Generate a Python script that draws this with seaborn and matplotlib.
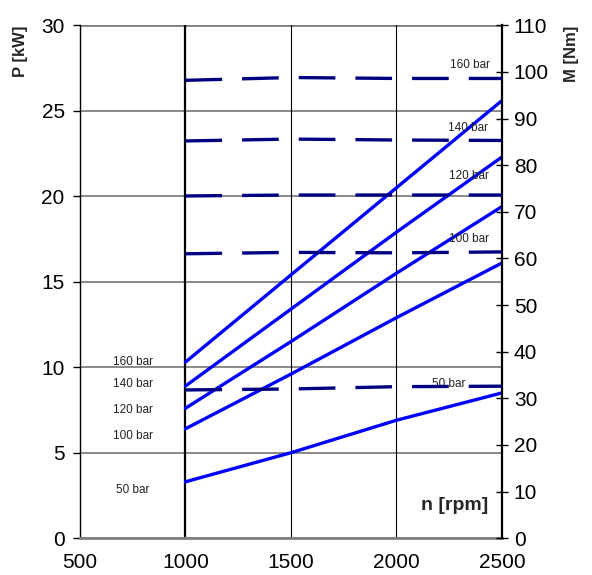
import matplotlib
matplotlib.use("Agg")
import matplotlib.pyplot as plt
import seaborn as sns
import pandas as pd

rpm = [1000, 1500, 2000, 2500]
pressures = ["160 bar", "140 bar", "120 bar", "100 bar", "50 bar"]
power_160 = [10.3, 15.4, 20.5, 25.6]
power_140 = [8.9, 13.4, 17.9, 22.3]
power_120 = [7.6, 11.5, 15.5, 19.4]
power_100 = [6.4, 9.6, 12.9, 16.1]
power_50 = [3.3, 5.0, 6.9, 8.5]
torque_160 = [98.2, 98.8, 98.6, 98.6]
torque_140 = [85.2, 85.6, 85.4, 85.3]
torque_120 = [73.4, 73.6, 73.6, 73.6]
torque_100 = [61.0, 61.3, 61.2, 61.4]
torque_50 = [31.8, 32.0, 32.5, 32.6]
x_ticks = [500, 1000, 1500, 2000, 2500]
p_ticks = [0, 5, 10, 15, 20, 25, 30]
m_ticks = list(range(0, 111, 10))

powers = [power_160, power_140, power_120, power_100, power_50]
torques = [torque_160, torque_140, torque_120, torque_100, torque_50]

pdf = pd.DataFrame([(n, v, p) for p, vals in zip(pressures, powers) for n, v in zip(rpm, vals)],
                   columns=["n", "P", "bar"])
tdf = pd.DataFrame([(n, v, p) for p, vals in zip(pressures, torques) for n, v in zip(rpm, vals)],
                   columns=["n", "M", "bar"])

sns.set_style("white")
plt.rcParams["font.family"] = ["Liberation Sans", "DejaVu Sans"]

fig = plt.figure(figsize=(5.92, 5.75), dpi=100)
ax = fig.add_axes([0.135, 0.064, 0.713, 0.892])
ax2 = ax.twinx()

for y in p_ticks:
    ax.axhline(y, color="#808080", lw=1.3 if y not in (0, 30) else 2.0, zorder=0)
ax.axvline(1000, color="black", lw=1.6, zorder=1)
for x in (1500, 2000):
    ax.axvline(x, color="black", lw=0.8, zorder=1)

sns.lineplot(data=pdf, x="n", y="P", hue="bar", palette=["#0000FF"] * 5, lw=2.4,
             legend=False, ax=ax, zorder=3)
sns.lineplot(data=tdf, x="n", y="M", hue="bar", palette=["#000080"] * 5, lw=2.4,
             legend=False, ax=ax2, zorder=3)
for line in ax2.lines:
    line.set_dashes([11, 6])

ax.set_xlim(500, 2500)
ax.set_ylim(0, 30)
ax2.set_ylim(0, 110)
ax.set_xticks(x_ticks)
ax.set_yticks(p_ticks)
ax2.set_yticks(m_ticks)
ax.set_xlabel("")
ax.set_ylabel("")
ax2.set_ylabel("")

for s in ("top",):
    ax.spines[s].set_visible(False)
    ax2.spines[s].set_visible(False)
ax2.spines["bottom"].set_visible(False)
ax2.spines["left"].set_visible(False)
ax.spines["bottom"].set_color("#808080")
ax.spines["bottom"].set_linewidth(2.0)
ax.spines["left"].set_color("black")
ax.spines["left"].set_linewidth(1.0)
ax.spines["right"].set_visible(False)
ax2.spines["right"].set_color("black")
ax2.spines["right"].set_linewidth(1.6)

ax.tick_params(axis="both", labelsize=15, colors="black", length=5, width=1, direction="out")
ax.tick_params(axis="y", pad=6)
ax2.tick_params(axis="y", labelsize=15, length=9, width=1, direction="inout", colors="black",
                pad=4)
ax.tick_params(axis="x", pad=6)

fig.text(0.035, 0.955, "P [kW]", rotation=90, ha="center", va="top", fontsize=12, fontweight="bold")
fig.text(0.965, 0.955, "M [Nm]", rotation=90, ha="center", va="top", fontsize=12, fontweight="bold")
ax.text(2277, 1.9, "n [rpm]", fontsize=14, fontweight="bold", ha="center", va="center")

left_y = [10.3, 9.0, 7.5, 6.0, 2.8]
for lab, y in zip(pressures, left_y):
    ax.text(750, y, lab, fontsize=8.5, ha="center", va="center", color="#222222")
right_y = [27.7, 24.0, 21.2, 17.5, 9.0]
right_x = [2350, 2340, 2345, 2345, 2245]
for lab, x, y in zip(pressures, right_x, right_y):
    ax.text(x, y, lab, fontsize=8.5, ha="center", va="center", color="#222222", zorder=4)

fig.savefig("out.png", dpi=100)
